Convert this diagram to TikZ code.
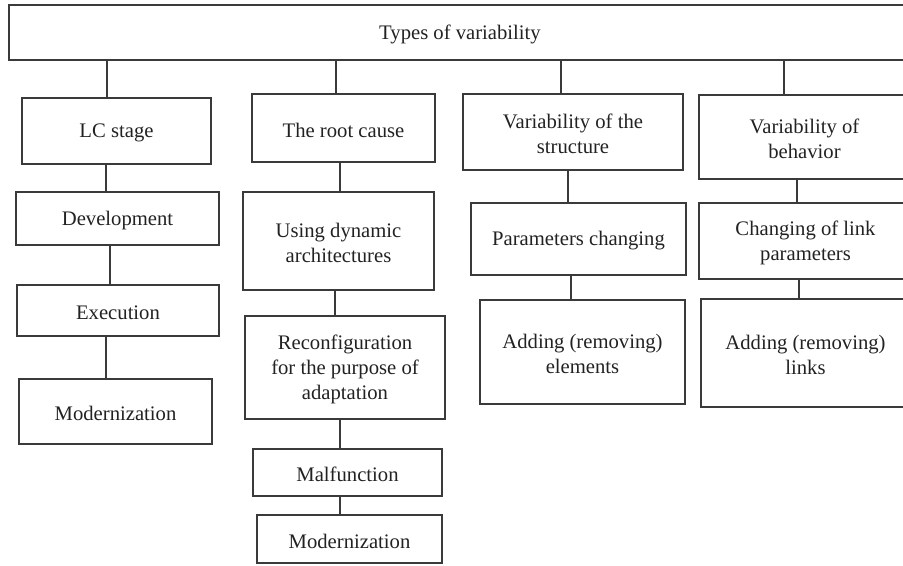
\documentclass[tikz,border=0pt]{standalone}
\usepackage{fontspec}
\setmainfont{Liberation Serif}
\definecolor{linec}{HTML}{3A3A3A}
\definecolor{textc}{HTML}{222222}
\newcommand\bx[6]{\node[box, minimum width={(#4-#2)*0.75pt}, minimum height={(#5-#3)*0.75pt},
  label={[boxtext]center:{#6}}] (#1) at ({(#2+#4)/2},{(#3+#5)/2}) {};}
\newcommand\conn[3]{\coordinate (c-#2) at (#3,0); \draw[conn] (#1.south -| c-#2) -- (#2.north -| c-#2);}
\begin{document}
\begin{tikzpicture}[x=0.75pt,y=-0.75pt,
  box/.style={draw=linec, line width=0.85pt, inner sep=0pt},
  boxtext/.style={align=center, inner sep=0pt, text=textc, yshift=-1.5pt,
    font=\fontsize{15.5}{18.5}\selectfont},
  conn/.style={draw=linec, line width=0.85pt}]
\clip (0,0) rectangle (903,565);
\bx{top}{9}{5}{911}{60}{Types of variability}
\bx{lc}{22}{98}{211}{164}{LC stage}
\bx{dev}{16}{192}{219}{245}{Development}
\bx{exe}{17}{285}{219}{336}{Execution}
\bx{modA}{19}{379}{212}{444}{Modernization}
\bx{root}{252}{94}{435}{162}{The root cause}
\bx{dyn}{243}{192}{434}{290}{Using dynamic\\architectures}
\bx{rec}{245}{316}{445}{419}{Reconfiguration\\for the purpose of\\adaptation}
\bx{mal}{253}{449}{442}{496}{Malfunction}
\bx{modB}{257}{515}{442}{563}{Modernization}
\bx{str}{463}{94}{683}{170}{Variability of the\\structure}
\bx{par}{471}{203}{686}{275}{Parameters changing}
\bx{adde}{480}{300}{685}{404}{Adding (removing)\\elements}
\bx{beh}{699}{95}{910}{179}{Variability of\\behavior}
\bx{lnk}{699}{203}{912}{279}{Changing of link\\parameters}
\bx{addl}{701}{299}{910}{407}{Adding (removing)\\links}
\conn{top}{lc}{107}
\conn{top}{root}{336}
\conn{top}{str}{561}
\conn{top}{beh}{784}
\conn{lc}{dev}{106}
\conn{dev}{exe}{110}
\conn{exe}{modA}{106}
\conn{root}{dyn}{340}
\conn{dyn}{rec}{335}
\conn{rec}{mal}{340}
\conn{mal}{modB}{340}
\conn{str}{par}{568}
\conn{par}{adde}{571}
\conn{beh}{lnk}{797}
\conn{lnk}{addl}{799}
\end{tikzpicture}
\end{document}
